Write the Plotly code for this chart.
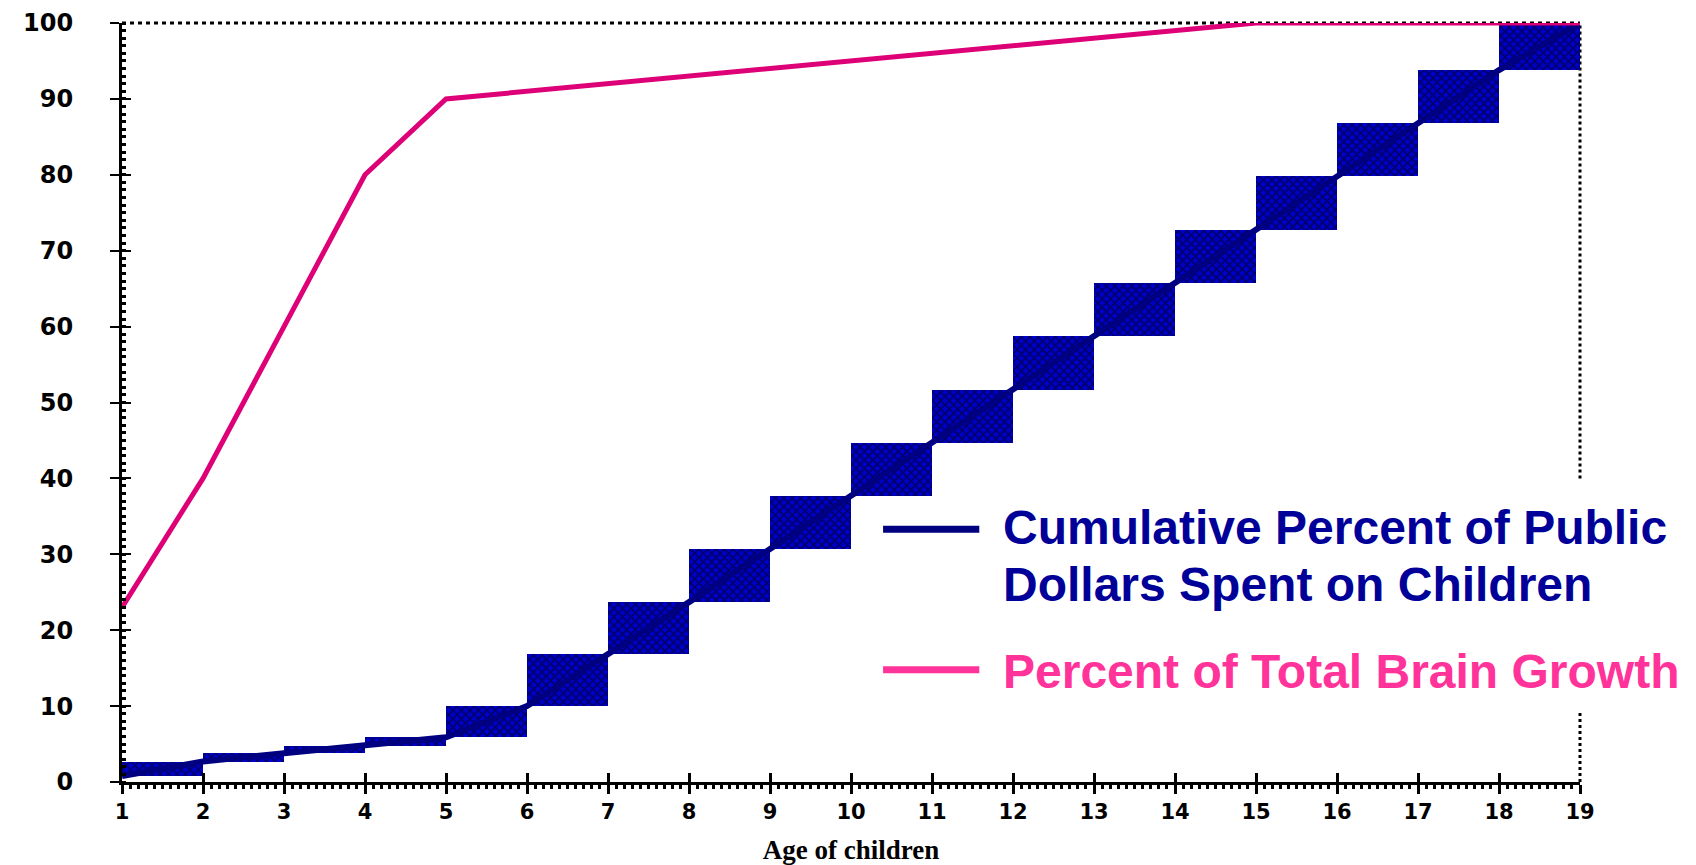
import plotly.graph_objects as go

# ---- data ----
ages = list(range(1, 20))
brain_growth = [23, 40, 60, 80, 90, 91, 92, 93, 94, 95, 96, 97, 98, 99, 100, 100, 100, 100, 100]
public_dollars = [0.8, 2.7, 3.8, 4.8, 5.9, 10, 16.8, 23.7, 30.7, 37.7, 44.7, 51.7, 58.7,
                  65.7, 72.7, 79.8, 86.8, 93.8, 100]
y_ticks = [0, 10, 20, 30, 40, 50, 60, 70, 80, 90, 100]
legend_public_lines = ["Cumulative Percent of Public", "Dollars Spent on Children"]
legend_brain = "Percent of Total Brain Growth"
x_title = "Age of children"

BLUE_LINE = "#000080"
BLUE_TEXT = "#000099"
PINK_LINE = "#DD0077"
PINK_TEXT = "#FF3399"

# step rectangles between consecutive cumulative values
mids = [a + 0.5 for a in ages[:-1]]
bases = public_dollars[:-1]
heights = [public_dollars[i + 1] - public_dollars[i] for i in range(len(ages) - 1)]

fig = go.Figure()
fig.add_trace(go.Bar(
    x=mids, y=heights, base=bases, width=1,
    marker=dict(color="#0000CC", line=dict(width=0),
                pattern=dict(shape="x", fgcolor="black", bgcolor="#0000CC",
                             size=6, solidity=0.45, fillmode="overlay")),
    showlegend=False, hoverinfo="skip"))
fig.add_trace(go.Scatter(
    x=ages, y=public_dollars, mode="lines",
    line=dict(color=BLUE_LINE, width=6), showlegend=False, cliponaxis=False))
fig.add_trace(go.Scatter(
    x=ages, y=brain_growth, mode="lines",
    line=dict(color=PINK_LINE, width=5), showlegend=False, cliponaxis=False))
# empty trace to activate overlay axes (inner half of crossing ticks)
fig.add_trace(go.Scatter(x=[], y=[], xaxis="x2", yaxis="y2", showlegend=False))

tick_font_y = dict(family="DejaVu Sans", size=24, color="black", weight="bold")
tick_font_x = dict(family="DejaVu Sans", size=21, color="black", weight="bold")
legend_font = dict(family="Liberation Sans", size=48, weight="bold")

fig.update_layout(
    width=1680, height=857,
    margin=dict(l=114, r=108, t=15, b=83),
    paper_bgcolor="white", plot_bgcolor="white",
    bargap=0,
    xaxis=dict(range=[1, 19], tickmode="array", tickvals=ages, ticktext=[str(a) for a in ages],
               automargin=False,
               showgrid=False, zeroline=False, showline=True, linecolor="black", linewidth=3,
               ticks="outside", ticklen=9, tickwidth=3, tickcolor="black",
               minor=dict(ticks="outside", dtick=0.1, ticklen=4, tickwidth=3, tickcolor="black"),
               tickfont=tick_font_x, ticklabelstandoff=0,
               title=dict(text=x_title, standoff=25,
                          font=dict(family="Liberation Serif", size=27, color="black", weight="bold"))),
    yaxis=dict(range=[0, 100], tickmode="array", tickvals=y_ticks,
               automargin=False,
               showgrid=False, zeroline=False, showline=True, linecolor="black", linewidth=3,
               ticks="outside", ticklen=9, tickwidth=2, tickcolor="black",
               minor=dict(ticks="inside", dtick=1, ticklen=4, tickwidth=3, tickcolor="black"),
               tickfont=tick_font_y, ticklabelstandoff=32),
    xaxis2=dict(range=[1, 19], overlaying="x", anchor="y", side="bottom",
                automargin=False,
                tickmode="array", tickvals=ages, showticklabels=False,
                showgrid=False, zeroline=False, showline=False,
                ticks="inside", ticklen=9, tickwidth=3, tickcolor="black"),
    yaxis2=dict(range=[0, 100], overlaying="y", anchor="x", side="left",
                automargin=False,
                tickmode="array", tickvals=y_ticks, showticklabels=False,
                showgrid=False, zeroline=False, showline=False,
                ticks="inside", ticklen=9, tickwidth=2, tickcolor="black"),
    shapes=[
        # dotted top border
        dict(type="line", xref="paper", yref="paper", x0=0, x1=1, y0=1, y1=1,
             line=dict(color="black", width=3, dash="4px,4px"), layer="below"),
        # dotted right border (interrupted by legend)
        dict(type="line", xref="paper", yref="paper", x0=1, x1=1, y0=0.40, y1=1,
             line=dict(color="black", width=3, dash="3px,3px"), layer="below"),
        dict(type="line", xref="paper", yref="paper", x0=1, x1=1, y0=0, y1=0.095,
             line=dict(color="black", width=3, dash="3px,3px"), layer="below"),
        # legend samples
        dict(type="line", xref="paper", yref="paper", x0=0.522, x1=0.588, y0=0.333, y1=0.333,
             line=dict(color=BLUE_LINE, width=7)),
        dict(type="line", xref="paper", yref="paper", x0=0.522, x1=0.588, y0=0.148, y1=0.148,
             line=dict(color=PINK_TEXT, width=7)),
    ],
    annotations=[
        dict(text=legend_public_lines[0], xref="paper", yref="paper", x=0.603, y=0.335,
             xanchor="left", yanchor="middle", align="left", showarrow=False,
             font=dict(legend_font, color=BLUE_TEXT)),
        dict(text=legend_public_lines[1], xref="paper", yref="paper", x=0.603, y=0.260,
             xanchor="left", yanchor="middle", align="left", showarrow=False,
             font=dict(legend_font, color=BLUE_TEXT)),
        dict(text=legend_brain, xref="paper", yref="paper", x=0.603, y=0.145,
             xanchor="left", yanchor="middle", align="left", showarrow=False,
             font=dict(legend_font, color=PINK_TEXT)),
    ],
)

fig.write_html("out.html")
